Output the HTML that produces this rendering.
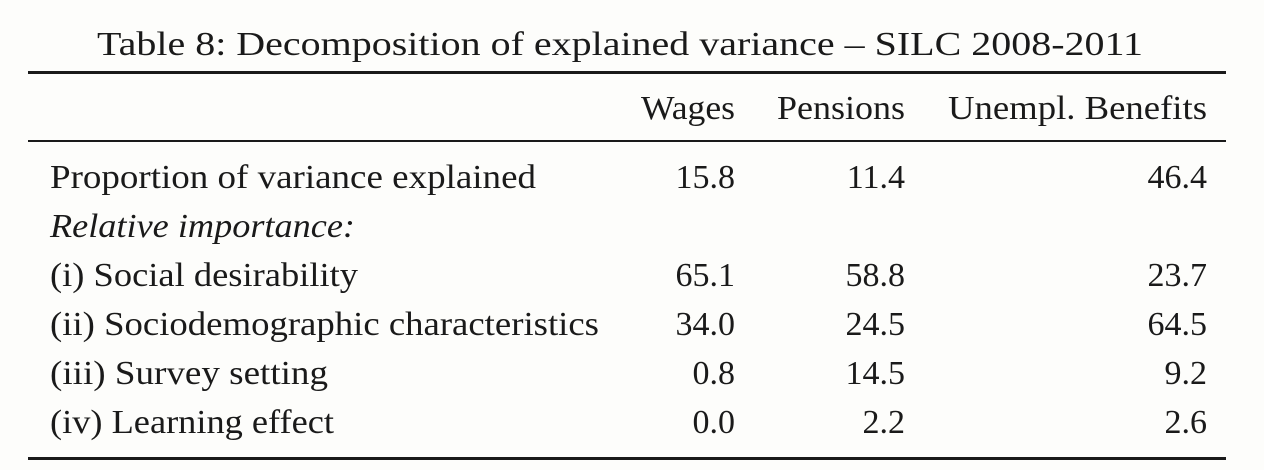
<!DOCTYPE html>
<html><head><meta charset="utf-8"><style>
html,body{margin:0;padding:0;background:#fdfdfb;}
svg{display:block}
text{font-family:"Liberation Serif",serif;font-size:34px;fill:#1a1a1a}
</style></head><body>
<svg width="1264" height="470" viewBox="0 0 1264 470" xmlns="http://www.w3.org/2000/svg">
<rect width="1264" height="470" fill="#fdfdfb"/>
<text x="97" y="55" textLength="1046" lengthAdjust="spacingAndGlyphs">Table 8: Decomposition of explained variance – SILC 2008-2011</text>
<rect x="28" y="71" width="1198" height="3" fill="#1a1a1a"/>
<text x="641" y="119" textLength="94" lengthAdjust="spacingAndGlyphs">Wages</text>
<text x="777" y="119" textLength="128" lengthAdjust="spacingAndGlyphs">Pensions</text>
<text x="948" y="119" textLength="259" lengthAdjust="spacingAndGlyphs">Unempl. Benefits</text>
<rect x="28" y="140" width="1198" height="2" fill="#1a1a1a"/>
<g>
<text x="50" y="188" textLength="486" lengthAdjust="spacingAndGlyphs">Proportion of variance explained</text>
<text x="50" y="237" textLength="305" lengthAdjust="spacingAndGlyphs" font-style="italic">Relative importance:</text>
<text x="50" y="286" textLength="308" lengthAdjust="spacingAndGlyphs">(i) Social desirability</text>
<text x="50" y="335" textLength="549" lengthAdjust="spacingAndGlyphs">(ii) Sociodemographic characteristics</text>
<text x="50" y="384" textLength="278" lengthAdjust="spacingAndGlyphs">(iii) Survey setting</text>
<text x="50" y="433" textLength="284" lengthAdjust="spacingAndGlyphs">(iv) Learning effect</text>
</g>
<g text-anchor="end">
<text x="735" y="188">15.8</text><text x="905" y="188">11.4</text><text x="1207" y="188">46.4</text>
<text x="735" y="286">65.1</text><text x="905" y="286">58.8</text><text x="1207" y="286">23.7</text>
<text x="735" y="335">34.0</text><text x="905" y="335">24.5</text><text x="1207" y="335">64.5</text>
<text x="735" y="384">0.8</text><text x="905" y="384">14.5</text><text x="1207" y="384">9.2</text>
<text x="735" y="433">0.0</text><text x="905" y="433">2.2</text><text x="1207" y="433">2.6</text>
</g>
<rect x="28" y="457" width="1198" height="3" fill="#1a1a1a"/>
</svg>
</body></html>
